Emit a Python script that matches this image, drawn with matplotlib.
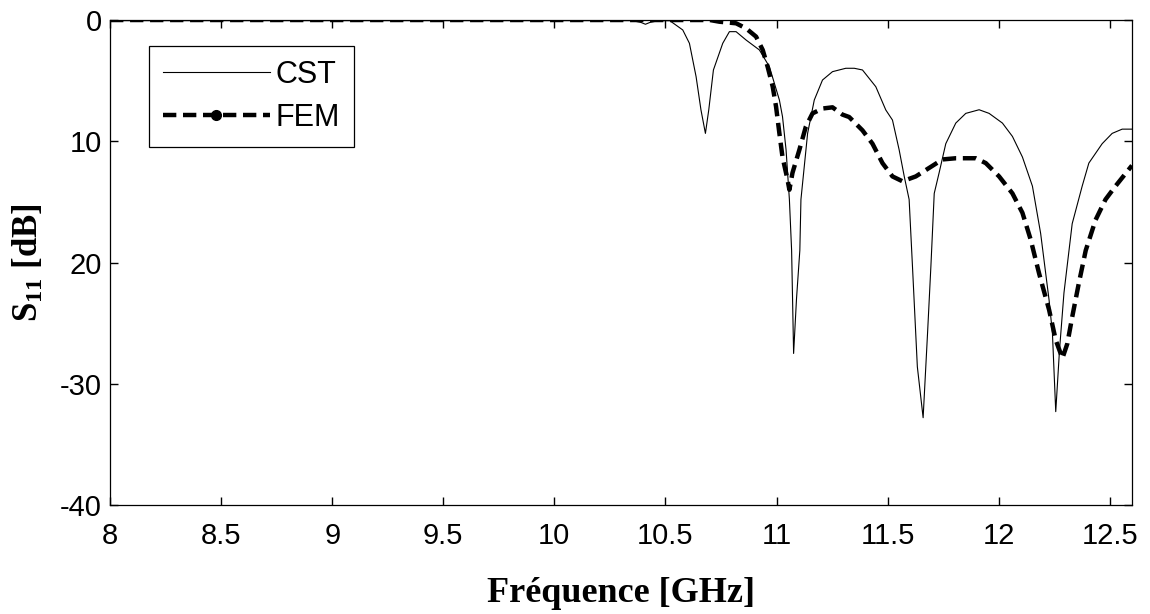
"""S11 comparison CST vs FEM, redrawn from the reference figure."""
import matplotlib
matplotlib.use("Agg")
import matplotlib.pyplot as plt
from matplotlib.lines import Line2D

plt.rcParams["font.family"] = ["Liberation Sans", "DejaVu Sans"]
plt.rcParams["mathtext.fontset"] = "custom"
plt.rcParams["mathtext.rm"] = "Liberation Serif:bold"
plt.rcParams["mathtext.bf"] = "Liberation Serif:bold"

# CST (thin solid)
cst_freq = [8.0, 8.5, 9.0, 9.5, 10.0, 10.35, 10.39, 10.41, 10.43, 10.47, 10.52,
            10.578, 10.608, 10.638, 10.660, 10.680, 10.695, 10.716, 10.758, 10.788,
            10.818, 10.863, 10.923, 10.968, 11.013, 11.027, 11.043, 11.058, 11.068,
            11.077, 11.090, 11.105, 11.11, 11.14, 11.17, 11.207, 11.252, 11.312,
            11.35, 11.387, 11.447, 11.492, 11.522, 11.552, 11.575, 11.597, 11.612,
            11.634, 11.660, 11.680, 11.695, 11.710, 11.732, 11.762, 11.807, 11.852,
            11.912, 11.957, 12.017, 12.062, 12.107, 12.152, 12.189, 12.227, 12.242,
            12.257, 12.274, 12.294, 12.331, 12.376, 12.406, 12.466, 12.511, 12.556,
            12.6]
cst_db = [-0.05, -0.05, -0.05, -0.05, -0.05, -0.05, -0.2, -0.35, -0.2, -0.05, -0.06,
          -0.82, -1.92, -4.67, -7.42, -9.35, -7.42, -4.12, -1.92, -0.96,
          -0.96, -1.65, -2.47, -3.85, -6.6, -7.97, -10.7, -14.8, -19.0,
          -27.5, -23.0, -19.0, -14.8, -9.35, -6.6, -4.95, -4.26, -3.98,
          -3.98, -4.12, -5.5, -7.42, -8.25, -10.7, -12.9, -14.8, -20.3,
          -28.6, -32.8, -25.8, -20.3, -14.3, -12.6, -10.2, -8.5, -7.7,
          -7.4, -7.7, -8.5, -9.6, -11.3, -13.7, -17.6, -23.1, -25.8,
          -32.3, -27.2, -22.5, -16.8, -13.7, -11.8, -10.2, -9.35, -9.0,
          -9.0]

# FEM (thick dashed)
fem_freq = [8.0, 9.0, 10.0, 10.5, 10.70, 10.743, 10.818, 10.863, 10.908, 10.938,
            10.960, 10.983, 10.998, 11.013, 11.027, 11.050, 11.058, 11.072, 11.103,
            11.132, 11.162, 11.207, 11.252, 11.297, 11.327, 11.387, 11.432, 11.477,
            11.522, 11.567, 11.627, 11.687, 11.747, 11.807, 11.897, 11.942, 12.002,
            12.062, 12.107, 12.144, 12.182, 12.227, 12.257, 12.287, 12.309, 12.331,
            12.361, 12.392, 12.436, 12.481, 12.526, 12.6]
fem_db = [0.0, 0.0, 0.0, 0.0, 0.0, -0.14, -0.27, -0.69, -1.37, -2.47,
          -3.85, -5.5, -7.15, -9.35, -11.3, -13.2, -14.0, -12.6, -10.7,
          -8.8, -7.7, -7.3, -7.2, -7.8, -8.0, -9.1, -10.2, -11.8,
          -12.9, -13.3, -12.9, -12.2, -11.5, -11.4, -11.4, -11.8, -12.9,
          -14.3, -15.9, -18.1, -20.9, -23.9, -26.4, -27.9, -26.7, -24.5,
          -21.7, -19.0, -16.5, -14.8, -13.7, -12.0]

x_ticks = [8, 8.5, 9, 9.5, 10, 10.5, 11, 11.5, 12, 12.5]
x_tick_labels = ["8", "8.5", "9", "9.5", "10", "10.5", "11", "11.5", "12", "12.5"]
y_ticks = [0, -10, -20, -30, -40]
y_tick_labels = ["0", "10", "20", "-30", "-40"]

fig = plt.figure(figsize=(11.5, 6.14), dpi=100)
ax = fig.add_axes([0.0957, 0.1775, 0.8886, 0.7899])

ax.plot(cst_freq, cst_db, color="black", lw=0.8)
fem_style = dict(color="black", lw=3.2, ls=(0, (3, 1.5)))
ax.plot(fem_freq, fem_db, **fem_style)

ax.set_xlim(8, 12.6)
ax.set_ylim(-40, 0)
ax.set_xticks(x_ticks, x_tick_labels)
ax.set_yticks(y_ticks, y_tick_labels)
ax.tick_params(direction="in", length=6, width=1, top=True, right=True, labelsize=21)
ax.tick_params(axis="x", pad=12)
ax.tick_params(axis="y", pad=6)
for s in ax.spines.values():
    s.set_linewidth(0.9)

ax.set_xlabel("Fréquence [GHz]", family="Liberation Serif", weight="bold",
              fontsize=26, labelpad=20)
ax.set_ylabel(r"$\mathbf{S_{11}}$ [dB]", family="Liberation Serif", weight="bold",
              fontsize=25, labelpad=10)

handles = [Line2D([], [], color="black", lw=0.8),
           Line2D([], [], marker="o", markersize=7, **fem_style)]
leg = ax.legend(handles, ["CST", "FEM"], loc="upper left",
                bbox_to_anchor=(0.038, 0.946), borderaxespad=0,
                fontsize=22, handlelength=3.5, handletextpad=0.2,
                labelspacing=0.42, borderpad=0.45, fancybox=False,
                framealpha=1, edgecolor="black")
leg.get_frame().set_linewidth(0.9)

fig.savefig("out.png", dpi=100)
